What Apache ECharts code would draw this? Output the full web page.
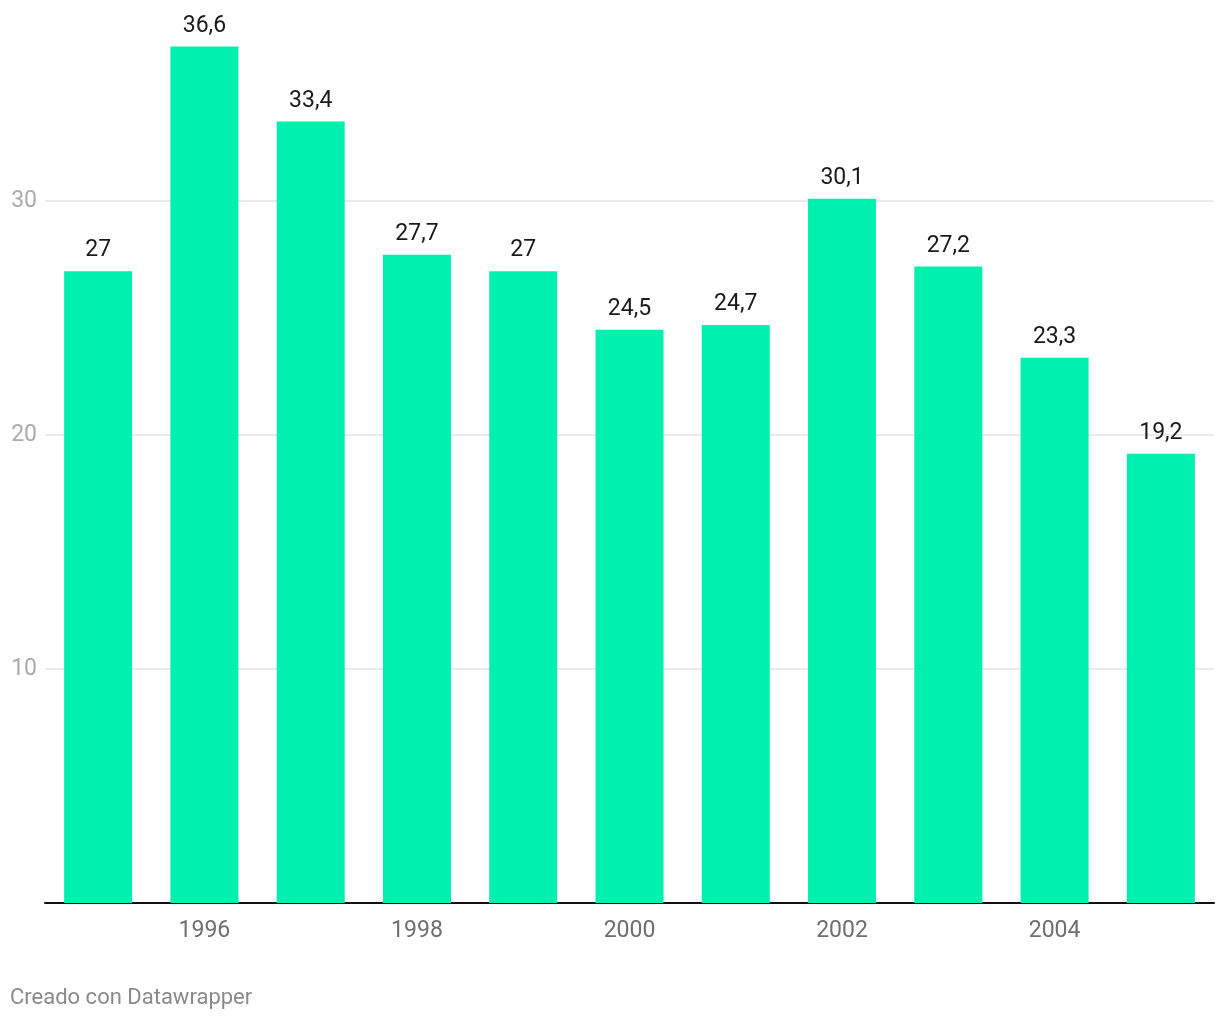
<!DOCTYPE html>
<html>
<head>
<meta charset="utf-8">
<script src="https://cdn.jsdelivr.net/npm/echarts@6/dist/echarts.min.js"></script>
<style>
html,body{margin:0;padding:0;background:#fff;}
#chart{width:1220px;height:1020px;}
</style>
</head>
<body>
<div id="chart"></div>
<script>
const years = ['1995','1996','1997','1998','1999','2000','2001','2002','2003','2004','2005'];
const values = [27, 36.6, 33.4, 27.7, 27, 24.5, 24.7, 30.1, 27.2, 23.3, 19.2];
const yTicks = [10, 20, 30];
const footer = 'Creado con Datawrapper';

const chart = echarts.init(document.getElementById('chart'));
chart.setOption({
  animation: false,
  backgroundColor: '#ffffff',
  textStyle: { fontFamily: 'Roboto' },
  graphic: [{
    type: 'text', left: 10, top: 987,
    style: { text: footer, fill: '#8a8a8a', font: '22px Roboto' }
  }],
  grid: { left: 45, right: 6, top: 0, bottom: 117, containLabel: false },
  xAxis: {
    type: 'category',
    data: years,
    axisLine: { show: true, lineStyle: { color: '#111', width: 2 } },
    axisTick: { show: false },
    axisLabel: {
      interval: function (i) { return i % 2 === 1; },
      color: '#6f6f6f', fontSize: 23, margin: 17, fontFamily: 'Roboto'
    },
    splitLine: { show: false }
  },
  yAxis: {
    type: 'value',
    min: 0, max: 38.59, interval: 10,
    axisLine: { show: false },
    axisTick: { show: false },
    axisLabel: {
      color: '#ababab', fontSize: 23, margin: 8, fontFamily: 'Roboto',
      formatter: function (v) { return yTicks.indexOf(v) >= 0 ? String(v) : ''; }
    },
    splitLine: { show: false }
  },
  series: [{
    type: 'bar',
    data: values,
    barCategoryGap: '36%',
    itemStyle: { color: '#00f0b0' },
    label: {
      show: true, position: 'top', distance: 9,
      color: '#1a1a1a', fontSize: 23, fontFamily: 'Roboto',
      formatter: function (p) { return String(p.value).replace('.', ','); }
    },
    markLine: {
      silent: true,
      symbol: ['none', 'none'],
      label: { show: false },
      z: 1,
      lineStyle: { color: '#e3e3e3', width: 1.5, type: 'solid' },
      data: yTicks.map(function (t) { return { yAxis: t }; })
    }
  }]
});
</script>
</body>
</html>
